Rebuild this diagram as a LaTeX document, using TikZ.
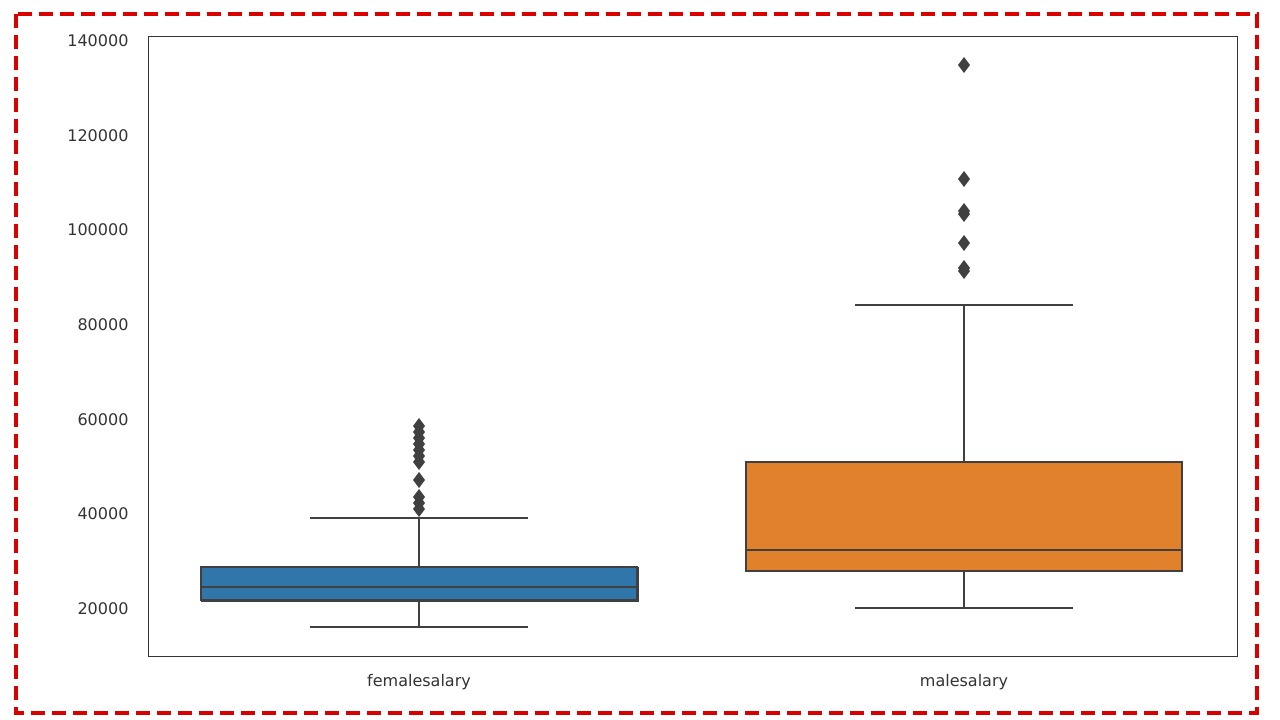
\documentclass[tikz,border=0pt]{standalone}
\usepackage{fontspec}
\setmainfont{DejaVu Sans}
\begin{document}
\begin{tikzpicture}[x=1pt,y=-1pt,
  ln/.style={draw=black!75,line width=2.2pt},
  lbl/.style={text=black!80,font=\fontsize{16}{18}\selectfont},
  outl/.style={fill=black!75,draw=none}]
\useasboundingbox (0,0) rectangle (1280,720);
\fill[white] (0,0) rectangle (1280,720);
\draw[red!85!black,line width=3.5pt,dash pattern=on 14pt off 7pt] (16,14) rectangle (1257,713);
\node[draw=black!80,line width=1.2pt,minimum width=1089pt,minimum height=620pt,anchor=north west,inner sep=0] (ax) at (148,36) {};
% y ticks
\foreach \v/\y in {140000/41,120000/136,100000/230,80000/325,60000/420,40000/514,20000/609}
  \node[lbl,anchor=east] (t\v) at (132,\y) {\v};
\node[lbl] (fx) at (419,682) {femalesalary};
\node[lbl] (mx) at (964,682) {malesalary};
% female
\coordinate (fl) at (419,627); \coordinate (fh) at (419,518);
\draw[ln] (419,627) -- (419,600) (419,567) -- (419,518);
\draw[ln] (310,627) -- (528,627) (310,518) -- (528,518);
\node[ln,fill=blue!45!cyan!60!black,minimum width=436pt,minimum height=33pt,inner sep=0,anchor=north west] (fbox) at (201,567) {};
\fill[fill={rgb,255:red,49;green,118;blue,171}] (201,567) rectangle (637,600);
\draw[ln] (201,567) rectangle (637,600);
\draw[ln] (201,587) -- (637,587);
\foreach \y in {426,432,438,444,450,456,462,480,497,503,509}
  \fill[outl] (419,\y-8) -- (425,\y) -- (419,\y+8) -- (413,\y) -- cycle;
% male
\draw[ln] (964,608) -- (964,571) (964,462) -- (964,305);
\draw[ln] (855,608) -- (1073,608) (855,305) -- (1073,305);
\fill[fill={rgb,255:red,225;green,129;blue,44}] (746,462) rectangle (1182,571);
\draw[ln] (746,462) rectangle (1182,571);
\draw[ln] (746,550) -- (1182,550);
\foreach \y in {65,179,211,214,243,268,271}
  \fill[outl] (964,\y-8) -- (970,\y) -- (964,\y+8) -- (958,\y) -- cycle;
\end{tikzpicture}
\end{document}
